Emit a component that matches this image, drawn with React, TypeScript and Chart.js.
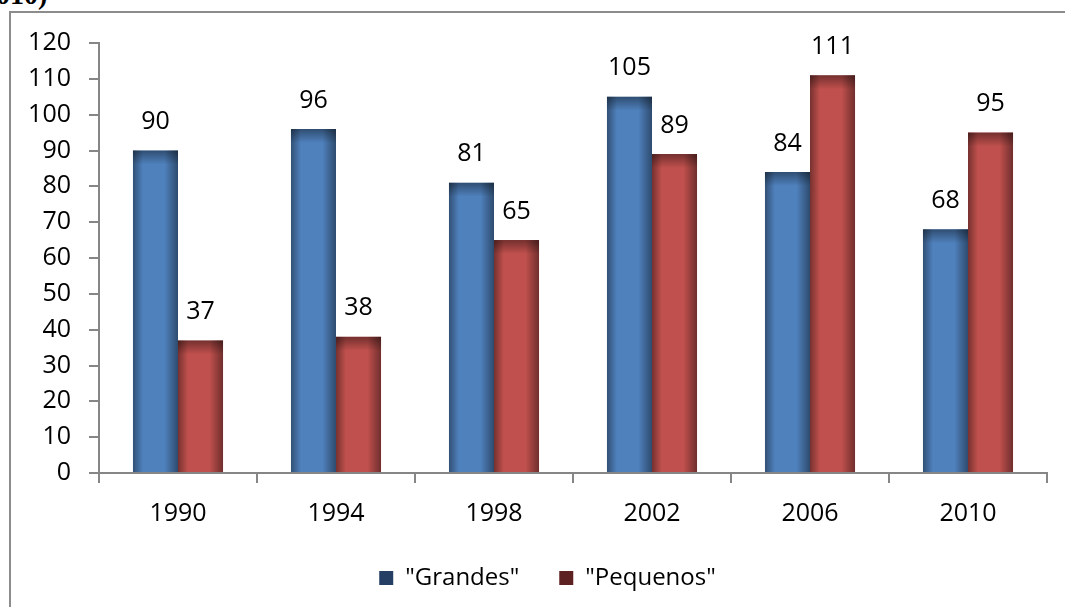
import React, { useEffect, useRef } from "react";
import { Chart, registerables } from "chart.js";

Chart.register(...registerables);

const categories = ["1990", "1994", "1998", "2002", "2006", "2010"];
const grandes = [90, 96, 81, 105, 84, 68];
const pequenos = [37, 38, 65, 89, 111, 95];
const seriesNames = ['"Grandes"', '"Pequenos"'];
const yTicks = [0, 10, 20, 30, 40, 50, 60, 70, 80, 90, 100, 110, 120];

const FONT = "'Open Sans', 'Liberation Sans', sans-serif";

const noLabelClip = {
  id: "noLabelClip",
  beforeDraw(chart: any) {
    const y = chart.scales.y;
    if (y) y._computeLabelArea = () => undefined;
  },
};

const barShade = {
  id: "barShade",
  afterDatasetsDraw(chart: any) {
    const ctx = chart.ctx;
    chart.data.datasets.forEach((ds: any, di: number) => {
      const meta = chart.getDatasetMeta(di);
      meta.data.forEach((el: any) => {
        const left = el.x - el.width / 2;
        const right = el.x + el.width / 2;
        const top = Math.min(el.y, el.base);
        const bottom = Math.max(el.y, el.base);
        ctx.save();
        const g = ctx.createLinearGradient(left, 0, right, 0);
        g.addColorStop(0, "rgba(0,0,0,0.38)");
        g.addColorStop(0.22, "rgba(0,0,0,0.0)");
        g.addColorStop(0.7, "rgba(0,0,0,0.0)");
        g.addColorStop(1, "rgba(0,0,0,0.42)");
        ctx.fillStyle = g;
        ctx.fillRect(left, top, right - left, bottom - top);
        const gv = ctx.createLinearGradient(0, top, 0, top + 14);
        gv.addColorStop(0, "rgba(0,0,0,0.4)");
        gv.addColorStop(1, "rgba(0,0,0,0)");
        ctx.fillStyle = gv;
        ctx.fillRect(left, top, right - left, Math.min(14, bottom - top));
        ctx.restore();
      });
    });
  },
};

const valueLabels = {
  id: "valueLabels",
  afterDatasetsDraw(chart: any) {
    const ctx = chart.ctx;
    ctx.save();
    ctx.font = `25px ${FONT}`;
    ctx.fillStyle = "#000";
    ctx.textAlign = "center";
    ctx.textBaseline = "bottom";
    chart.data.datasets.forEach((ds: any, di: number) => {
      const meta = chart.getDatasetMeta(di);
      meta.data.forEach((el: any, i: number) => {
        ctx.fillText(String(ds.data[i]), el.x, el.y - 16);
      });
    });
    ctx.restore();
  },
};

export default function App() {
  const ref = useRef<HTMLCanvasElement>(null);
  useEffect(() => {
    if (!ref.current) return;
    const chart = new Chart(ref.current, {
      type: "bar",
      data: {
        labels: categories,
        datasets: [
          { label: seriesNames[0], data: grandes, backgroundColor: "#4F81BD" },
          { label: seriesNames[1], data: pequenos, backgroundColor: "#C0504D" },
        ],
      },
      options: {
        animation: false,
        responsive: false,
        maintainAspectRatio: false,
        layout: { padding: { left: 48, right: 18, top: 43, bottom: 7 } },
        datasets: {
          bar: { categoryPercentage: 0.57, barPercentage: 1 },
        },
        plugins: {
          tooltip: { enabled: false },
          legend: {
            position: "bottom",
            labels: {
              font: { family: FONT, size: 24 },
              color: "#000",
              boxWidth: 14,
              boxHeight: 14,
              padding: 40,
              generateLabels: () => [
                { text: seriesNames[0], fillStyle: "#243F63", strokeStyle: "#243F63", lineWidth: 0, datasetIndex: 0 },
                { text: seriesNames[1], fillStyle: "#5C2120", strokeStyle: "#5C2120", lineWidth: 0, datasetIndex: 1 },
              ],
            },
          },
        },
        scales: {
          x: {
            grid: { display: true, drawOnChartArea: false, drawTicks: true, tickLength: 10, color: "#868686", lineWidth: 2, offset: true },
            border: { display: true, color: "#868686", width: 2 },
            ticks: { font: { family: FONT, size: 25 }, color: "#000", padding: 16, maxRotation: 0 },
            afterFit: (s: any) => { s.height = 53; },
          },
          y: {
            min: 0,
            max: 120,
            afterBuildTicks: (s: any) => { s.ticks = yTicks.map((v) => ({ value: v })); },
            grid: { display: true, drawOnChartArea: false, drawTicks: true, tickLength: 10, color: "#868686", lineWidth: 2 },
            border: { display: true, color: "#868686", width: 2 },
            ticks: { font: { family: FONT, size: 25 }, color: "#000", padding: 18 },
            afterFit: (s: any) => { s.width = 51; },
          },
        },
      },
      plugins: [noLabelClip, barShade, valueLabels],
    });
    return () => chart.destroy();
  }, []);

  return (
    <div style={{ position: "fixed", left: 0, top: 0, width: 1065, height: 607, background: "#fff", overflow: "hidden" }}>
      <div
        style={{
          position: "absolute",
          left: -4,
          top: -19,
          fontFamily: "'Liberation Serif', serif",
          fontWeight: "bold",
          fontSize: 28,
          lineHeight: 1,
          color: "#000",
          whiteSpace: "nowrap",
        }}
      >
        010)
      </div>
      <div
        style={{
          position: "absolute",
          left: 9,
          top: 11,
          width: 1065,
          height: 607,
          borderLeft: "2px solid #8c8c8c",
          borderTop: "2px solid #8c8c8c",
        }}
      />
      <canvas ref={ref} width={1065} height={607} style={{ position: "absolute", left: 0, top: 0, width: 1065, height: 607 }} />
    </div>
  );
}
